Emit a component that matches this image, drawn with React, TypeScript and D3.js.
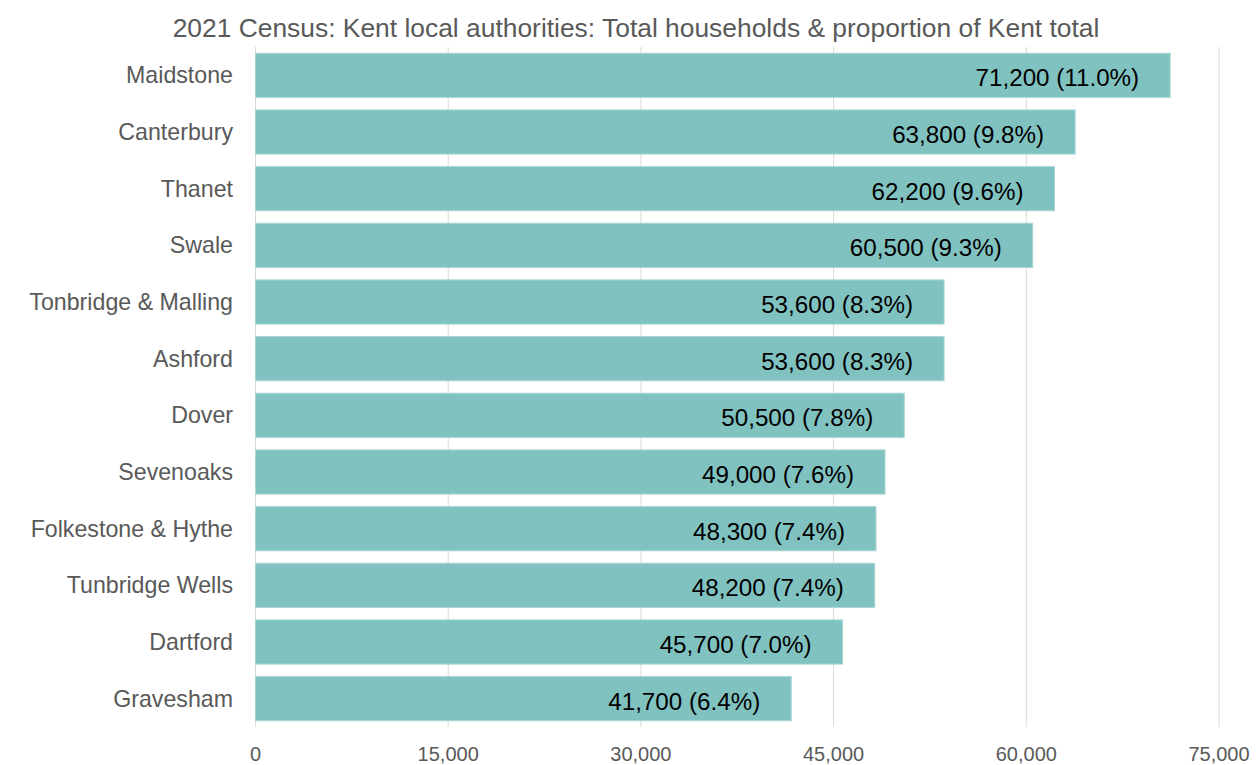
import React from "react";
import * as d3 from "d3";

const categories = [
  "Maidstone",
  "Canterbury",
  "Thanet",
  "Swale",
  "Tonbridge & Malling",
  "Ashford",
  "Dover",
  "Sevenoaks",
  "Folkestone & Hythe",
  "Tunbridge Wells",
  "Dartford",
  "Gravesham",
];
const households = [71200, 63800, 62200, 60500, 53600, 53600, 50500, 49000, 48300, 48200, 45700, 41700];
const shares = ["11.0%", "9.8%", "9.6%", "9.3%", "8.3%", "8.3%", "7.8%", "7.6%", "7.4%", "7.4%", "7.0%", "6.4%"];
const ticks = [0, 15000, 30000, 45000, 60000, 75000];
const title = "2021 Census: Kent local authorities: Total households & proportion of Kent total";

const W = 1260;
const H = 765;
const left = 255.5;
const right = 1219;
const top = 47;
const bottom = 727;
const FONT = "'Liberation Sans', Arial, Helvetica, sans-serif";

export default function App() {
  const x = d3.scaleLinear().domain([0, 75000]).range([left, right]);
  const y = d3
    .scaleBand<string>()
    .domain(categories)
    .range([top, bottom])
    .paddingInner(0.22)
    .paddingOuter(0.11);
  const fmt = d3.format(",");

  return (
    <svg
      width={W}
      height={H}
      style={{ position: "absolute", left: 0, top: 0, display: "block", background: "#fff" }}
      fontFamily={FONT}
    >
      <text x={636} y={37} textAnchor="middle" fontSize={26.4} fill="#595959">
        {title}
      </text>
      {ticks.map((t) => (
        <g key={t}>
          <line x1={x(t)} x2={x(t)} y1={top} y2={bottom} stroke="#d9d9d9" strokeWidth={1} />
          <text x={x(t)} y={761} textAnchor="middle" fontSize={20} fill="#595959">
            {fmt(t)}
          </text>
        </g>
      ))}
      {categories.map((c, i) => {
        const y0 = y(c) as number;
        const bh = y.bandwidth();
        const xe = x(households[i]);
        return (
          <g key={c}>
            <rect
              x={x(0)}
              y={y0}
              width={xe - x(0)}
              height={bh}
              fill="#80c2c0"
              stroke="#a9d6d4"
              strokeWidth={1}
            />
            <text
              x={233}
              y={y0 + bh / 2 + 8}
              textAnchor="end"
              fontSize={23.2}
              fill="#595959"
            >
              {c}
            </text>
            <text
              x={xe - 31}
              y={y0 + bh / 2 + 11}
              textAnchor="end"
              fontSize={24.2}
              fill="#000"
            >
              {`${fmt(households[i])} (${shares[i]})`}
            </text>
          </g>
        );
      })}
    </svg>
  );
}
